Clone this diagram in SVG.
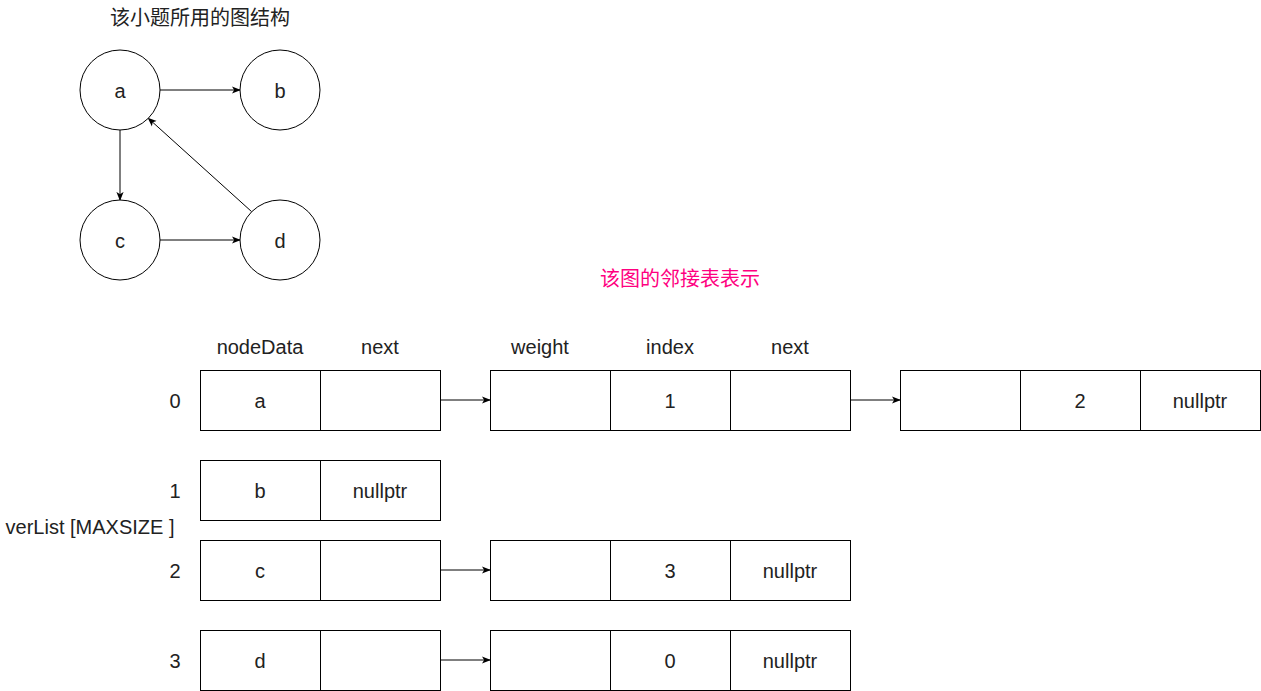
<svg xmlns="http://www.w3.org/2000/svg" width="1261" height="691" viewBox="0 0 1261 691">
<style>
.c{fill:#fff;stroke:#000;stroke-width:1}
.r{fill:#fff;stroke:#000;stroke-width:1}
.t{font-family:"Liberation Sans",Arial,sans-serif;font-size:20px;fill:#222;text-anchor:middle;dominant-baseline:central}
.cjk{font-family:"Noto Sans CJK SC","Liberation Sans",sans-serif;font-size:20px;text-anchor:middle;dominant-baseline:central}
.e{stroke:#000;stroke-width:1;fill:none;marker-end:url(#ah)}
</style>
<defs>
<marker id="ah" viewBox="0 0 10 10" refX="9" refY="5" markerWidth="9" markerHeight="9" markerUnits="userSpaceOnUse" orient="auto">
<path d="M0,1 L10,5 L0,9 L2.5,5 Z" fill="#000"/>
</marker>
</defs>
<rect width="1261" height="691" fill="#fff"/>
<text class="cjk" x="200" y="16" fill="#222">该小题所用的图结构</text>
<g id="connectors">
<path class="e" d="M160,90 L240,90"/>
<path class="e" d="M120,130 L120,200"/>
<path class="e" d="M160,240 L240,240"/>
<path class="e" d="M251.7,211.7 L148.3,118.3"/>
<path class="e" d="M440,400 L490,400"/>
<path class="e" d="M850,400 L900,400"/>
<path class="e" d="M440,570 L490,570"/>
<path class="e" d="M440,660 L490,660"/>
</g>
<g id="node-a"><circle class="c" cx="120" cy="90" r="40"/><text class="t" x="120" y="91">a</text></g>
<g id="node-b"><circle class="c" cx="280" cy="90" r="40"/><text class="t" x="280" y="91">b</text></g>
<g id="node-c"><circle class="c" cx="120" cy="240" r="40"/><text class="t" x="120" y="241">c</text></g>
<g id="node-d"><circle class="c" cx="280" cy="240" r="40"/><text class="t" x="280" y="241">d</text></g>
<text class="cjk" x="680" y="277" fill="#FF0080">该图的邻接表表示</text>
<g id="headers">
<text class="t" x="260" y="347">nodeData</text>
<text class="t" x="380" y="347">next</text>
<text class="t" x="540" y="347">weight</text>
<text class="t" x="670" y="347">index</text>
<text class="t" x="790" y="347">next</text>
</g>
<g id="labels">
<text class="t" x="175" y="401">0</text>
<text class="t" x="175" y="491">1</text>
<text class="t" x="175" y="571">2</text>
<text class="t" x="175" y="661">3</text>
<text class="t" x="90" y="527">verList [MAXSIZE ]</text>
</g>
<g id="row0">
<rect class="r" x="200.5" y="370.5" width="120" height="60"/><rect class="r" x="320.5" y="370.5" width="120" height="60"/>
<text class="t" x="260" y="401">a</text>
</g>
<g id="row0-edge1">
<rect class="r" x="490.5" y="370.5" width="120" height="60"/><rect class="r" x="610.5" y="370.5" width="120" height="60"/><rect class="r" x="730.5" y="370.5" width="120" height="60"/>
<text class="t" x="670" y="401">1</text>
</g>
<g id="row0-edge2">
<rect class="r" x="900.5" y="370.5" width="120" height="60"/><rect class="r" x="1020.5" y="370.5" width="120" height="60"/><rect class="r" x="1140.5" y="370.5" width="120" height="60"/>
<text class="t" x="1080" y="401">2</text><text class="t" x="1200" y="401">nullptr</text>
</g>
<g id="row1">
<rect class="r" x="200.5" y="460.5" width="120" height="60"/><rect class="r" x="320.5" y="460.5" width="120" height="60"/>
<text class="t" x="260" y="491">b</text><text class="t" x="380" y="491">nullptr</text>
</g>
<g id="row2">
<rect class="r" x="200.5" y="540.5" width="120" height="60"/><rect class="r" x="320.5" y="540.5" width="120" height="60"/>
<text class="t" x="260" y="571">c</text>
</g>
<g id="row2-edge">
<rect class="r" x="490.5" y="540.5" width="120" height="60"/><rect class="r" x="610.5" y="540.5" width="120" height="60"/><rect class="r" x="730.5" y="540.5" width="120" height="60"/>
<text class="t" x="670" y="571">3</text><text class="t" x="790" y="571">nullptr</text>
</g>
<g id="row3">
<rect class="r" x="200.5" y="630.5" width="120" height="60"/><rect class="r" x="320.5" y="630.5" width="120" height="60"/>
<text class="t" x="260" y="661">d</text>
</g>
<g id="row3-edge">
<rect class="r" x="490.5" y="630.5" width="120" height="60"/><rect class="r" x="610.5" y="630.5" width="120" height="60"/><rect class="r" x="730.5" y="630.5" width="120" height="60"/>
<text class="t" x="670" y="661">0</text><text class="t" x="790" y="661">nullptr</text>
</g>
</svg>
